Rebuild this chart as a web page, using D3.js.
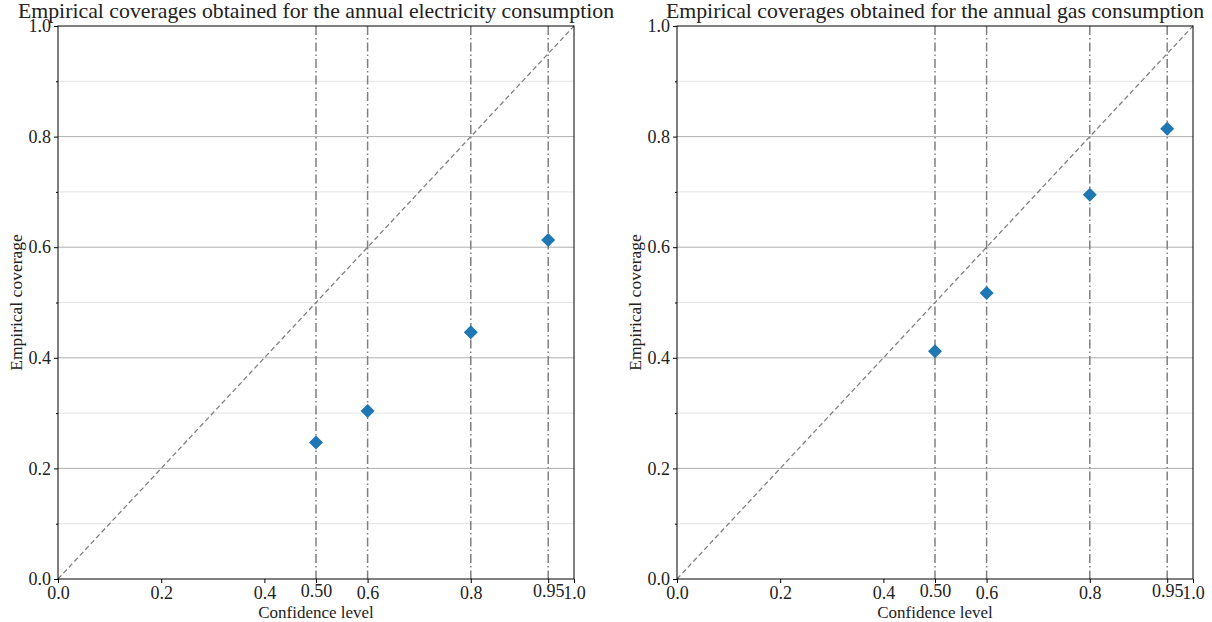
<!DOCTYPE html>
<html><head><meta charset="utf-8">
<script src="https://cdn.jsdelivr.net/npm/d3@7"></script>
<style>body{margin:0;background:#fff}svg{display:block}text{font-family:"Liberation Serif","DejaVu Serif",serif;fill:#222}</style>
</head><body><svg id="c" width="1212" height="622"></svg>
<script>
const titles = ["Empirical coverages obtained for the annual electricity consumption",
                "Empirical coverages obtained for the annual gas consumption"];
const confidenceLevels = [0.5, 0.6, 0.8, 0.95];
const electricityCoverage = [0.247, 0.304, 0.446, 0.613];
const gasCoverage = [0.412, 0.517, 0.695, 0.814];
const xTicks = [0.0, 0.2, 0.4, 0.6, 0.8, 1.0];
const xTickLabels = ["0.0","0.2","0.4","0.6","0.8","1.0"];
const xExtraTicks = [0.5, 0.95];
const xExtraLabels = ["0.50","0.95"];
const yTicks = [0.0, 0.2, 0.4, 0.6, 0.8, 1.0];
const yMinorTicks = [0.1, 0.3, 0.5, 0.7, 0.9];
const xLabel = "Confidence level";
const yLabel = "Empirical coverage";

const svg = d3.select("#c");
const panels = [{left:58, data:electricityCoverage, title:titles[0]},
                {left:677, data:gasCoverage, title:titles[1]}];
const plotTop = 26, H = 553, W = 516;

panels.forEach(p => {
  const g = svg.append("g").attr("transform", `translate(${p.left},${plotTop})`);
  const x = d3.scaleLinear().domain([0,1]).range([0,W]);
  const y = d3.scaleLinear().domain([0,1]).range([H,0]);
  // grid
  g.selectAll(".gmin").data(yMinorTicks).join("line")
    .attr("x1",0).attr("x2",W).attr("y1",d=>y(d)).attr("y2",d=>y(d))
    .attr("stroke","#e4e4e4").attr("stroke-width",1);
  g.selectAll(".gmaj").data(yTicks.slice(1,-1)).join("line")
    .attr("x1",0).attr("x2",W).attr("y1",d=>y(d)).attr("y2",d=>y(d))
    .attr("stroke","#b0b0b0").attr("stroke-width",1);
  // diagonal
  g.append("line").attr("x1",x(0)).attr("y1",y(0)).attr("x2",x(1)).attr("y2",y(1))
    .attr("stroke","#808080").attr("stroke-width",1.3).attr("stroke-dasharray","5,3");
  // vertical lines
  g.selectAll(".vl").data(confidenceLevels).join("line")
    .attr("x1",d=>x(d)).attr("x2",d=>x(d)).attr("y1",0).attr("y2",H)
    .attr("stroke","#808080").attr("stroke-width",1.5).attr("stroke-dasharray","9,3,1.5,3");
  // markers
  const diamond = "M0,-7L7,0L0,7L-7,0Z";
  g.selectAll(".pt").data(confidenceLevels.map((c,i)=>[c,p.data[i]])).join("path")
    .attr("d",diamond).attr("transform",d=>`translate(${x(d[0])},${y(d[1])})`)
    .attr("fill","#1f77b4");
  // axes
  const xa = g.append("g").attr("transform",`translate(0,${H})`)
    .call(d3.axisBottom(x).tickValues(xTicks).tickFormat((d,i)=>xTickLabels[i]).tickSize(4).tickPadding(3));
  const xe = g.append("g").attr("transform",`translate(0,${H})`)
    .call(d3.axisBottom(x).tickValues(xExtraTicks).tickFormat((d,i)=>xExtraLabels[i]).tickSize(4).tickPadding(1));
  xe.select(".domain").remove();
  const ya = g.append("g")
    .call(d3.axisLeft(y).tickValues(yTicks).tickFormat(d3.format(".1f")).tickSize(4).tickPadding(3));
  const ym = g.append("g")
    .call(d3.axisLeft(y).tickValues(yMinorTicks).tickFormat("").tickSize(2));
  ym.select(".domain").remove();
  [xa,xe,ya,ym].forEach(a=>{
    a.selectAll("text").style("font-family",'"Liberation Serif","DejaVu Serif",serif').style("font-size","18px").attr("fill","#222");
    a.selectAll("line").attr("stroke","#000");
    a.select(".domain").attr("stroke","none");
  });
  // spines
  g.append("rect").attr("x",0).attr("y",0).attr("width",W).attr("height",H)
    .attr("fill","none").attr("stroke","#000").attr("stroke-width",1);
  // labels
  g.append("text").attr("x",W/2).attr("y",-8).attr("text-anchor","middle")
    .style("font-size","21.8px").text(p.title);
  g.append("text").attr("x",W/2).attr("y",H+39).attr("text-anchor","middle")
    .style("font-size","17px").text(xLabel);
  g.append("text").attr("transform",`translate(-36,${H/2}) rotate(-90)`).attr("text-anchor","middle")
    .style("font-size","17.5px").text(yLabel);
});
</script></body></html>
